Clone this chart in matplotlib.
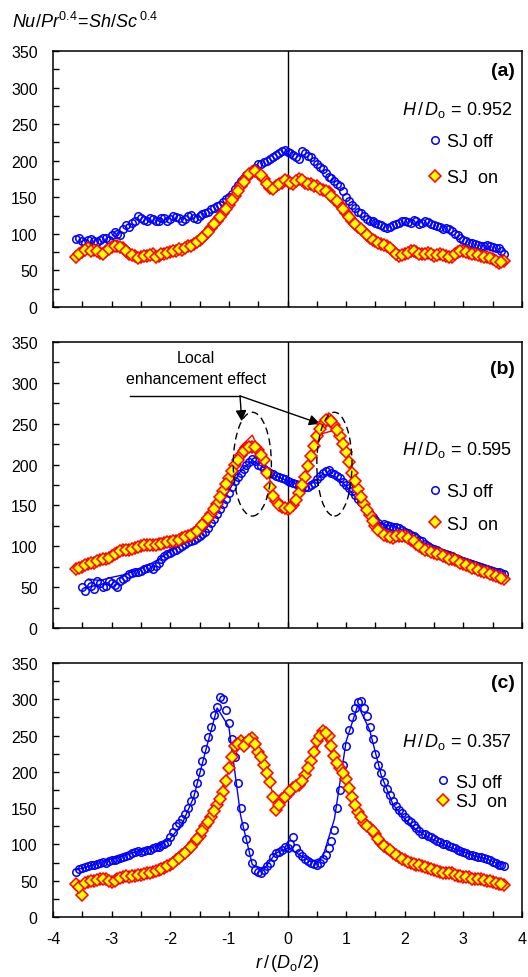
import numpy as np
import matplotlib
matplotlib.use('Agg')
import matplotlib.pyplot as plt
from matplotlib.patches import Ellipse
from matplotlib.ticker import MultipleLocator

plt.rcParams['font.family'] = ['Liberation Sans', 'DejaVu Sans']
plt.rcParams['mathtext.fontset'] = 'custom'
plt.rcParams['mathtext.rm'] = 'Liberation Sans'
plt.rcParams['mathtext.it'] = 'Liberation Sans:italic'
plt.rcParams['mathtext.bf'] = 'Liberation Sans:bold'
plt.rcParams['axes.unicode_minus'] = False

# ---------------- data ----------------
r_pts = np.round(np.arange(-3.6, 3.71, 0.1), 2)    # marker positions r/(Do/2)
r_mid = np.round(np.arange(-3.55, 3.66, 0.1), 2)   # in-between marker positions
r_line = np.round(np.arange(-3.6, 3.61, 0.2), 1)   # line positions

nan = np.nan
a_off = [93, 90, 92, 90, 91, 94, 98, 100, 106, 110,
         118, 122, 117, 120, 118, 121, 120, 123, 118, 124,
         122, 125, 128, 134, 138, 143, 150, 162, 172, 180,
         185, 195, 198, 202, 208, 213, 212, 208, 203, 210,
         205, 195, 188, 178, 172, 165, 150, 140, 130, 125,
         118, 115, 112, 108, 112, 115, 118, 115, 117, 115,
         116, 112, 110, 108, 104, 98, 92, 88, 86, 84,
         85, 82, 80, 72]
a_off_mid = [95, 88, 93, 89, 95, 92, 102, 98, 112, 115,
             125, 119, 122, 117, 122, 118, 124, 121, 120, 126,
             120, 127, 130, 136, 140, 147, 155, 167, 176, 183,
             190, 196, 200, 205, 211, 215, 210, 205, 213, 207,
             200, 192, 183, 176, 168, 158, 145, 135, 128, 120,
             117, 113, 110, 110, 114, 117, 116, 119, 114, 117,
             114, 111, 107, 106, 100, 95, 90, 87, 85, 83,
             83, 80, 76]
a_on = [68, 75, 80, 78, 74, 76, 82, 83, 80, 72,
        70, 68, 70, 72, 70, 73, 75, 77, 78, 83,
        86, 92, 98, 108, 118, 128, 140, 152, 165, 177,
        185, 183, 175, 163, 165, 170, 172, 168, 175, 170,
        168, 165, 160, 157, 148, 140, 128, 118, 110, 102,
        95, 90, 86, 84, 76, 70, 72, 76, 75, 72,
        74, 70, 72, 70, 68, 75, 77, 74, 72, 70,
        68, 66, 60, 63]
a_on_mid = [72, 78, 76, 76, 73, 79, 84, 82, 76, 71,
            67, 70, 71, 68, 72, 74, 76, 79, 80, 84,
            89, 95, 103, 113, 123, 134, 146, 158, 171, 182,
            186, 180, 168, 162, 168, 173, 170, 172, 173, 168,
            166, 162, 158, 152, 145, 134, 123, 114, 106, 98,
            92, 88, 85, 80, 72, 71, 74, 77, 73, 73,
            72, 71, 71, 69, 72, 76, 75, 73, 71, 69,
            67, 63, 61]

b_off = [nan, 50, 55, 48, 55, 52, 55, 50, 60, 66,
         68, 70, 74, 72, 80, 88, 92, 96, 100, 105,
         108, 112, 118, 128, 140, 152, 165, 180, 190, 200,
         207, 200, 195, 190, 186, 183, 180, 178, 175, 172,
         175, 182, 190, 193, 188, 183, 175, 168, 158, 150,
         140, 132, 125, 126, 124, 122, 118, 114, 110, 106,
         100, 97, 93, 90, 88, 84, 82, 80, 77, 75,
         72, 70, 68, 66]
b_off_mid = [nan, 45, 52, 58, 50, 57, 53, 58, 62, 67,
             69, 72, 75, 76, 85, 90, 94, 98, 103, 106,
             110, 115, 122, 134, 146, 158, 172, 185, 195, 203,
             204, 198, 192, 188, 185, 182, 179, 176, 174, 173,
             178, 186, 192, 190, 186, 179, 171, 163, 154, 145,
             136, 128, 127, 125, 123, 120, 116, 112, 108, 103,
             98, 95, 92, 89, 86, 83, 81, 78, 76, 73,
             71, 69, 67]
b_on = [72, 75, 78, 80, 83, 85, 88, 92, 95, 96,
        98, 100, 102, 101, 103, 104, 105, 107, 110, 112,
        116, 122, 130, 140, 152, 168, 183, 200, 212, 220,
        222, 218, 205, 172, 155, 148, 146, 150, 165, 185,
        210, 235, 250, 256, 248, 235, 215, 190, 170, 152,
        138, 125, 117, 112, 110, 113, 112, 108, 103, 98,
        95, 92, 90, 87, 84, 82, 78, 76, 73, 70,
        68, 65, 63, 60]
b_on_mid = [73, 77, 79, 82, 84, 86, 90, 94, 95, 97,
            99, 101, 102, 102, 103, 105, 106, 108, 111, 114,
            119, 126, 135, 146, 160, 176, 192, 206, 216, 222,
            221, 212, 190, 162, 151, 147, 147, 157, 175, 198,
            223, 243, 254, 253, 242, 225, 203, 180, 160, 145,
            131, 120, 114, 111, 112, 112, 110, 106, 100, 96,
            93, 91, 88, 85, 83, 80, 77, 74, 71, 69,
            66, 64, 61]
b_off_line = [nan, 60, 58, 62, 65, 70, 76, 84, 94, 102,
              108, 120, 142, 168, 192, 205, 196, 186, 180, 176,
              176, 188, 186, 174, 156, 138, 127, 125, 119, 110,
              101, 94, 88, 83, 78, 73, 69]
b_on_line = [72, 76, 80, 85, 90, 95, 98, 100, 103, 108,
             116, 130, 155, 188, 222, 236, 205, 158, 148, 168,
             208, 238, 242, 212, 168, 138, 118, 110, 110, 101,
             94, 89, 84, 78, 73, 68, 63]

c_off = [62, 68, 70, 72, 74, 75, 78, 80, 82, 86,
         90, 90, 92, 95, 97, 100, 110, 125, 135, 150,
         170, 200, 232, 262, 290, 300, 268, 220, 150, 108,
         75, 62, 65, 75, 88, 92, 95, 110, 88, 80,
         75, 72, 80, 95, 120, 175, 235, 275, 296, 288,
         262, 225, 198, 176, 160, 147, 138, 131, 122, 115,
         112, 108, 103, 100, 96, 93, 90, 86, 84, 82,
         80, 76, 72, 70]
c_off_mid = [66, 69, 71, 73, 76, 77, 79, 81, 84, 88,
             91, 91, 93, 96, 99, 104, 117, 130, 142, 160,
             185, 215, 248, 278, 303, 285, 245, 185, 125, 90,
             65, 60, 70, 82, 90, 97, 100, 95, 84, 77,
             73, 75, 86, 105, 150, 210, 258, 288, 298, 277,
             245, 210, 186, 168, 153, 143, 134, 127, 118, 114,
             110, 105, 101, 98, 95, 91, 88, 85, 83, 81,
             78, 74, 71]
c_on = [45, 30, 48, 50, 52, 53, 48, 52, 55, 55,
        57, 58, 60, 62, 65, 68, 72, 78, 85, 92,
        102, 112, 125, 138, 155, 172, 205, 235, 242, 240,
        246, 228, 210, 186, 148, 162, 170, 178, 182, 195,
        215, 242, 256, 250, 222, 205, 190, 165, 145, 130,
        122, 115, 102, 95, 88, 82, 78, 75, 72, 70,
        68, 65, 62, 60, 60, 57, 55, 55, 52, 52,
        50, 48, 46, 44]
c_on_mid = [42, 47, 49, 51, 52, 50, 50, 54, 56, 56,
            58, 59, 61, 63, 66, 70, 75, 81, 88, 97,
            107, 118, 131, 146, 163, 188, 220, 238, 236, 244,
            238, 220, 198, 165, 155, 165, 174, 180, 188, 205,
            228, 250, 254, 236, 212, 198, 178, 155, 138, 126,
            118, 108, 98, 92, 85, 80, 76, 73, 71, 69,
            66, 63, 61, 60, 58, 56, 55, 53, 52, 51,
            49, 47, 45]
c_off_line = [65, 70, 75, 80, 84, 90, 94, 98, 108, 128,
              165, 228, 288, 262, 140, 72, 66, 88, 95, 86,
              76, 82, 135, 242, 292, 258, 195, 155, 135, 120,
              110, 102, 95, 90, 84, 80, 73]
c_on_line = [48, 50, 53, 52, 56, 58, 62, 66, 74, 86,
             103, 126, 160, 202, 240, 240, 208, 158, 165, 182,
             212, 250, 225, 188, 148, 122, 103, 90, 80, 74,
             69, 64, 60, 56, 53, 50, 47]

panel_labels = ['(a)', '(b)', '(c)']
hd_values = ['0.952', '0.595', '0.357']

BLUE = '#0000FF'
RED = '#FF0000'
YEL = '#FFFF00'

# ---------------- layout ----------------
W_PX, H_PX = 528, 978
fig = plt.figure(figsize=(W_PX / 100, H_PX / 100), dpi=100)
left_px, right_px = 53, 522
rows = [(52, 308), (343, 629), (664, 918)]

panels = [
    (a_off, a_off_mid, a_on, a_on_mid, None, None),
    (b_off, b_off_mid, b_on, b_on_mid, b_off_line, b_on_line),
    (c_off, c_off_mid, c_on, c_on_mid, c_off_line, c_on_line),
]

txt_pos = [  # (label y, H/D y, legend center y, legend x, labelspacing)
    (0.922, 0.773, 0.576, 0.800, 1.05),
    (0.906, 0.626, 0.420, 0.800, 0.85),
    (0.925, 0.693, 0.492, 0.819, 0.15),
]

axes = []
for i, ((top, bot), (off, off_m, on, on_m, off_l, on_l)) in enumerate(zip(rows, panels)):
    ax = fig.add_axes([left_px / W_PX, 1 - bot / H_PX,
                       (right_px - left_px) / W_PX, (bot - top) / H_PX])
    axes.append(ax)
    ax.set_xlim(-4, 4)
    ax.set_ylim(0, 350)
    ax.xaxis.set_major_locator(MultipleLocator(1))
    ax.xaxis.set_minor_locator(MultipleLocator(0.5))
    ax.yaxis.set_major_locator(MultipleLocator(50))
    ax.yaxis.set_minor_locator(MultipleLocator(25))
    ax.tick_params(which='both', direction='in', length=4, width=1,
                   top=False, right=False, labelsize=11.5, colors='black')
    ax.tick_params(axis='y', pad=11)
    ax.tick_params(axis='x', pad=10)
    for s in ax.spines.values():
        s.set_linewidth(1.1)
    if i < 2:
        ax.tick_params(axis='x', labelbottom=False)

    ax.axvline(0, color='black', lw=1, zorder=1)

    if off_l is not None:
        ax.plot(r_line, off_l, color=BLUE, lw=1, zorder=2)
        ax.plot(r_line, on_l, color=RED, lw=1, zorder=2)
    off_x = np.concatenate([r_pts, r_mid])
    off_y = np.concatenate([off, off_m])
    on_y = np.concatenate([on, on_m])
    h_off, = ax.plot(off_x, off_y, ls='none', marker='o', ms=5.4, mfc='none',
                     mec=BLUE, mew=1.1, zorder=3)
    h_on, = ax.plot(off_x, on_y, ls='none', marker='D', ms=5.8, mfc=YEL,
                    mec=RED, mew=1.1, zorder=4)

    ly, hy, legy, legx, lsp = txt_pos[i]
    ax.text(0.985, ly, panel_labels[i], transform=ax.transAxes, ha='right',
            va='center', fontsize=14, fontweight='bold')
    ax.text(0.979, hy, r'$H\,/\,D_{\mathrm{o}}$ = ' + hd_values[i],
            transform=ax.transAxes, ha='right', va='center', fontsize=13)
    ax.legend([h_off, h_on], ['SJ off', 'SJ  on'], loc='center left',
              bbox_to_anchor=(legx, legy), frameon=False, handlelength=0.7,
              handletextpad=0.35, borderpad=0, borderaxespad=0,
              labelspacing=lsp, fontsize=13, numpoints=1)

# annotation in panel (b)
axb = axes[1]
axb.text(-1.56, 318, 'Local\nenhancement effect', ha='center', va='center',
         fontsize=11.5, linespacing=1.45)
axb.plot([-2.69, -0.81], [284, 284], color='black', lw=1)
for tip in [(-0.78, 253), (0.555, 250)]:
    axb.annotate('', xy=tip, xytext=(-0.81, 284),
                 arrowprops=dict(arrowstyle='-|>', color='black', lw=1,
                                 mutation_scale=16, shrinkA=0, shrinkB=0))
for cx, w in [(-0.6, 0.65), (0.8, 0.6)]:
    axb.add_patch(Ellipse((cx, 200.5), w, 127, fill=False, ec='black', lw=1,
                          ls=(0, (5, 3)), zorder=5))

# axis titles
fig.text(12 / W_PX, 1 - 22 / H_PX, r'$Nu/Pr^{0.4}\!=\!Sh/Sc^{\,0.4}$',
         ha='left', va='center', fontsize=13)
fig.text(287.5 / W_PX, 1 - 964 / H_PX, r'$r\,/\,(D_{\mathrm{o}}/2)$',
         ha='center', va='center', fontsize=13)

fig.savefig('out.png', dpi=100)
